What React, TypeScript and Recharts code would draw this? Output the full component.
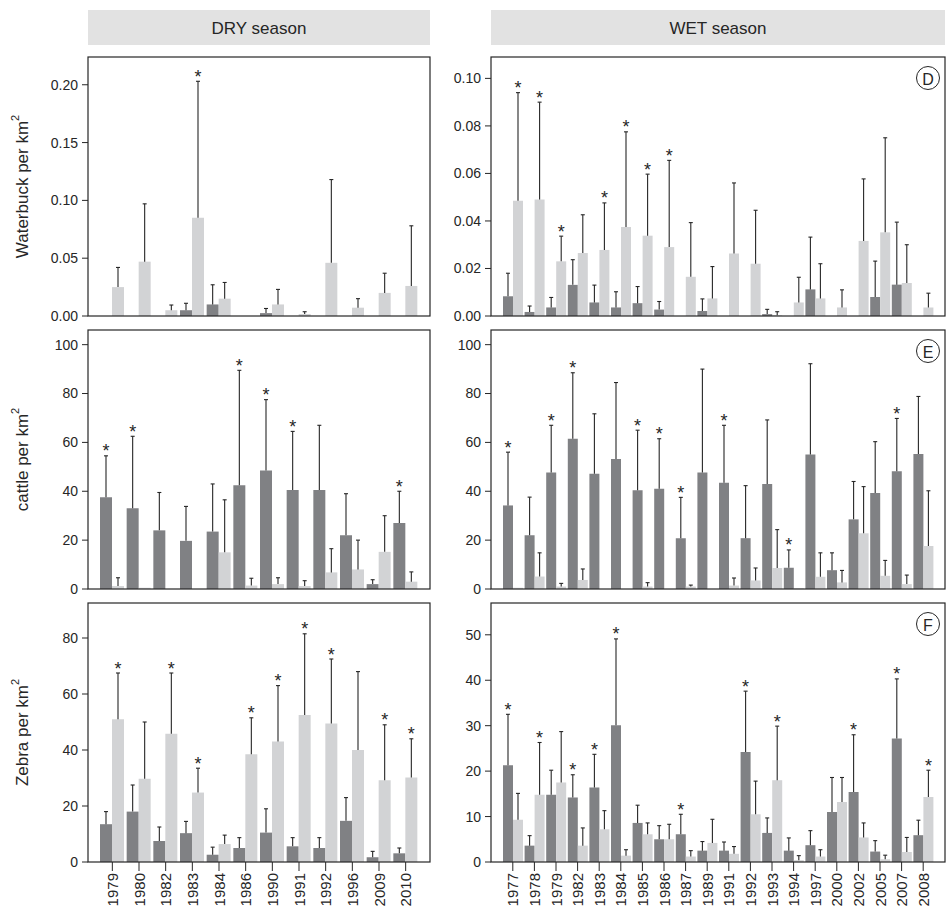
import React from 'react';
import { ComposedChart, Bar, XAxis, YAxis } from 'recharts';

// ---- categories ----
const dryYears = ['1979', '1980', '1982', '1983', '1984', '1986', '1990', '1991', '1992', '1996', '2009', '2010'];
const wetYears = ['1977', '1978', '1979', '1982', '1983', '1984', '1985', '1986', '1987', '1989', '1991', '1992', '1993', '1994', '1997', '2000', '2002', '2005', '2007', '2008'];

// ---- Waterbuck, dry season (mean and mean + SE) ----
const wbDryDark = [0, 0, 0, 0.005, 0.010, 0, 0.0025, 0, 0, 0, 0, 0];
const wbDryDarkHi = [null, null, null, 0.011, 0.027, null, 0.0065, null, null, null, null, null];
const wbDryLight = [0.025, 0.047, 0.005, 0.085, 0.015, 0, 0.010, 0.0017, 0.046, 0.0072, 0.020, 0.026];
const wbDryLightHi = [0.042, 0.097, 0.0095, 0.203, 0.029, null, 0.023, 0.0037, 0.118, 0.015, 0.037, 0.078];
const wbDryDarkStars: string[] = [];
const wbDryLightStars = ['1983'];

// ---- Cattle, dry season ----
const caDryDark = [37.5, 33, 24, 19.7, 23.5, 42.5, 48.5, 40.5, 40.5, 22, 2, 27];
const caDryDarkHi = [54.5, 62.5, 39.5, 33.8, 43, 89.5, 77.5, 64.5, 67, 39, 3.8, 40];
const caDryLight = [1.2, 0.5, 0, 0, 15, 1.4, 2, 1.2, 6.8, 8, 15.2, 3];
const caDryLightHi = [4.6, null, null, null, 36.5, 4.4, 4.6, 3.4, 16.5, 20, 30, 7];
const caDryDarkStars = ['1979', '1980', '1986', '1990', '1991', '2010'];
const caDryLightStars: string[] = [];

// ---- Zebra, dry season ----
const zeDryDark = [13.5, 18, 7.5, 10.3, 2.6, 5, 10.5, 5.6, 5, 14.7, 1.7, 3.1];
const zeDryDarkHi = [18, 27.5, 12.5, 14.5, 5.3, 8.7, 19, 8.7, 8.7, 23, 3.8, 5];
const zeDryLight = [51, 29.7, 45.8, 24.8, 6.4, 38.5, 43, 52.5, 49.5, 40, 29.2, 30.2];
const zeDryLightHi = [67.5, 50, 67.5, 33.5, 9.6, 51.5, 63, 81.5, 72.5, 68, 49, 44];
const zeDryDarkStars: string[] = [];
const zeDryLightStars = ['1979', '1982', '1983', '1986', '1990', '1991', '1992', '2009', '2010'];

// ---- Waterbuck, wet season ----
const wbWetDark = [0.0083, 0.0017, 0.0036, 0.0131, 0.0057, 0.0036, 0.0054, 0.0027, 0, 0.0021, 0, 0, 0.0008, 0, 0.0112, 0, 0, 0.008, 0.0132, 0];
const wbWetDarkHi = [0.018, 0.0042, 0.0078, 0.0237, 0.013, 0.0102, 0.0124, 0.0061, null, 0.0072, null, null, 0.0028, null, 0.0332, null, null, 0.0231, 0.0395, null];
const wbWetLight = [0.0485, 0.049, 0.023, 0.0265, 0.0278, 0.0375, 0.0338, 0.029, 0.0165, 0.0074, 0.0263, 0.022, 0.0003, 0.0057, 0.0074, 0.0036, 0.0316, 0.0352, 0.0139, 0.0036];
const wbWetLightHi = [0.094, 0.090, 0.0336, 0.0426, 0.0476, 0.0775, 0.0597, 0.0655, 0.0393, 0.0208, 0.056, 0.0445, 0.0018, 0.0163, 0.022, 0.011, 0.0577, 0.075, 0.030, 0.0096];
const wbWetDarkStars: string[] = [];
const wbWetLightStars = ['1977', '1978', '1979', '1983', '1984', '1985', '1986'];

// ---- Cattle, wet season ----
const caWetDark = [34.2, 22, 47.7, 61.5, 47.2, 53.2, 40.4, 41, 20.8, 47.7, 43.5, 20.8, 43, 8.7, 55, 7.7, 28.5, 39.3, 48.2, 55.2];
const caWetDarkHi = [56, 37.6, 67, 88.5, 71.7, 84.5, 65, 61.5, 37.5, 90, 67, 42.3, 69.2, 16, 92.2, 14.8, 44, 60.3, 69.8, 78.8];
const caWetLight = [0.5, 5.1, 1, 3.7, 0, 0, 1, 0, 1, 0, 1.4, 3.5, 8.6, 0.3, 5, 2.7, 22.8, 5.4, 2, 17.6];
const caWetLightHi = [null, 14.8, 2.3, 8.2, null, null, 2.6, null, 1.6, null, 4.5, 8.6, 24.3, null, 14.8, 7.6, 41.9, 11.7, 5.7, 40.2];
const caWetDarkStars = ['1977', '1979', '1982', '1985', '1986', '1987', '1991', '1994', '2007'];
const caWetLightStars: string[] = [];

// ---- Zebra, wet season ----
const zeWetDark = [21.3, 3.6, 14.8, 14.2, 16.4, 30.1, 8.6, 5, 6.1, 2.5, 2.5, 24.2, 6.4, 2.5, 3.7, 11, 15.4, 2.3, 27.2, 5.9];
const zeWetDarkHi = [32.5, 5.8, 20.2, 19.2, 23.7, 49.1, 12.5, 8, 10.5, 4.5, 4.4, 37.6, 9.7, 5.3, 6.9, 18.6, 28, 4.7, 40.3, 9.2];
const zeWetLight = [9.3, 14.8, 17.5, 3.6, 7.2, 1.4, 6.1, 5, 1.2, 4.2, 1.8, 10.5, 18, 0.4, 1.2, 13.2, 5.4, 0.6, 2.2, 14.3];
const zeWetLightHi = [15.1, 26.3, 28.7, 7.5, 11.3, 2.7, 8.6, 8.3, 2.5, 9.4, 3.4, 17.8, 29.9, 1.4, 2.7, 18.6, 8.6, 1.5, 5.4, 20.2];
const zeWetDarkStars = ['1977', '1982', '1983', '1984', '1987', '1992', '2002', '2007'];
const zeWetLightStars = ['1978', '1993', '2008'];

// ---- axis ticks ----
const wbDryTicks = [0, 0.05, 0.1, 0.15, 0.2];
const wbWetTicks = [0, 0.02, 0.04, 0.06, 0.08, 0.1];
const cattleTicks = [0, 20, 40, 60, 80, 100];
const zeDryTicks = [0, 20, 40, 60, 80];
const zeWetTicks = [0, 10, 20, 30, 40, 50];

// ---- styling ----
const FONT = '"Liberation Sans", Arial, Helvetica, sans-serif';
const INK = '#262626';
const DARK_FILL = '#808184';
const LIGHT_FILL = '#d2d3d5';
const HEADER_FILL = '#e2e2e2';

type Num = number | null;

// Each row holds the two means plus the SE span stacked above each mean.
function buildRows(cats: string[], dark: Num[], darkHi: Num[], light: Num[], lightHi: Num[], darkStars: string[], lightStars: string[]) {
  return cats.map((cat, i) => {
    const d = dark[i] as number;
    const l = light[i] as number;
    const dh = darkHi[i];
    const lh = lightHi[i];
    return {
      cat,
      dark: d,
      light: l,
      darkSe: dh == null ? 0 : dh - d,
      lightSe: lh == null ? 0 : lh - l,
      darkStar: darkStars.includes(cat) && dh != null,
      lightStar: lightStars.includes(cat) && lh != null,
    };
  });
}

// Whisker drawn inside the rectangle of the stacked SE segment: stem plus top cap.
const Whisker = (props: any) => {
  const { x, y, width, height } = props;
  if (![x, y, width, height].every((v) => Number.isFinite(v)) || height <= 0.2) return <g />;
  const cx = x + width / 2;
  return (
    <g stroke={INK} strokeWidth={1.1} fill="none">
      <line x1={cx} y1={y + height} x2={cx} y2={y} />
      <line x1={cx - 2} y1={y} x2={cx + 2} y2={y} />
    </g>
  );
};

// Significance asterisk placed just above the whisker cap.
const starLabel = (rows: any[], key: 'darkStar' | 'lightStar') => (props: any) => {
  const { index } = props;
  const vb = props.viewBox || props;
  const x = vb.x;
  const y = vb.y;
  const width = vb.width;
  if (index == null || !rows[index] || !rows[index][key]) return null;
  if (![x, y, width].every((v) => Number.isFinite(v))) return null;
  return (
    <text x={x + width / 2} y={y + 1.5} textAnchor="middle" fontSize={18} fill={INK} fontFamily={FONT}>
      *
    </text>
  );
};

const YearTick = (props: any) => {
  const { x, y, payload } = props;
  return (
    <text
      x={x}
      y={y}
      transform={`rotate(-90 ${x} ${y})`}
      textAnchor="end"
      dominantBaseline="central"
      fontSize={15}
      fill={INK}
      fontFamily={FONT}
    >
      {payload.value}
    </text>
  );
};

type Frame = { x: number; y: number; w: number; h: number };

function Panel(props: {
  rows: any[];
  frame: Frame;
  yMax: number;
  yTicks: number[];
  fmt: (v: number) => string;
  bottom: boolean;
  barSize: number;
  pad: number;
}) {
  const { rows, frame, yMax, yTicks, fmt, bottom, barSize, pad } = props;
  const YW = 70;
  const MT = 4;
  const MR = 4;
  const XH = bottom ? 57 : 14;
  const width = YW + frame.w + MR;
  const height = MT + frame.h + XH;
  return (
    <div style={{ position: 'absolute', left: frame.x - YW, top: frame.y - MT }}>
      <ComposedChart
        width={width}
        height={height}
        data={rows}
        margin={{ top: MT, right: MR, left: 0, bottom: 0 }}
        barGap={0}
        barCategoryGap={0}
      >
        <XAxis
          dataKey="cat"
          interval={0}
          axisLine={false}
          tickLine={{ stroke: INK, strokeWidth: 1 }}
          tickSize={9}
          padding={{ left: pad, right: pad }}
          height={XH}
          tick={bottom ? <YearTick /> : false}
        />
        <YAxis
          domain={[0, yMax]}
          ticks={yTicks}
          tickFormatter={fmt}
          allowDataOverflow
          axisLine={false}
          tickLine={{ stroke: INK, strokeWidth: 1 }}
          tickSize={6}
          tickMargin={4}
          width={YW}
          tick={{ fontSize: 14, fill: INK, fontFamily: FONT }}
        />
        <Bar dataKey="dark" stackId="dark" fill={DARK_FILL} barSize={barSize} isAnimationActive={false} />
        <Bar dataKey="darkSe" stackId="dark" fill="none" barSize={barSize} shape={Whisker}
          label={starLabel(rows, 'darkStar')} isAnimationActive={false} />
        <Bar dataKey="light" stackId="light" fill={LIGHT_FILL} barSize={barSize} isAnimationActive={false} />
        <Bar dataKey="lightSe" stackId="light" fill="none" barSize={barSize} shape={Whisker}
          label={starLabel(rows, 'lightStar')} isAnimationActive={false} />
      </ComposedChart>
    </div>
  );
}

const fmt2 = (v: number) => v.toFixed(2);
const fmt0 = (v: number) => String(v);

const LEFT_X = 88;
const LEFT_W = 342;
const RIGHT_X = 491;
const RIGHT_W = 454;
const ROW_Y = [57, 330, 603];
const ROW_H = 259;

export default function App() {
  const frames = {
    a: { x: LEFT_X, y: ROW_Y[0], w: LEFT_W, h: ROW_H },
    b: { x: LEFT_X, y: ROW_Y[1], w: LEFT_W, h: ROW_H },
    c: { x: LEFT_X, y: ROW_Y[2], w: LEFT_W, h: ROW_H },
    d: { x: RIGHT_X, y: ROW_Y[0], w: RIGHT_W, h: ROW_H },
    e: { x: RIGHT_X, y: ROW_Y[1], w: RIGHT_W, h: ROW_H },
    f: { x: RIGHT_X, y: ROW_Y[2], w: RIGHT_W, h: ROW_H },
  };

  const titles = [
    { label: 'Waterbuck per km', y: ROW_Y[0] + ROW_H / 2 },
    { label: 'cattle per km', y: ROW_Y[1] + ROW_H / 2 },
    { label: 'Zebra per km', y: ROW_Y[2] + ROW_H / 2 },
  ];
  const letters = [
    { t: 'D', f: frames.d },
    { t: 'E', f: frames.e },
    { t: 'F', f: frames.f },
  ];

  return (
    <div style={{ position: 'absolute', left: 0, top: 0, width: 951, height: 919, background: '#fff', fontFamily: FONT }}>
      <Panel rows={buildRows(dryYears, wbDryDark, wbDryDarkHi, wbDryLight, wbDryLightHi, wbDryDarkStars, wbDryLightStars)}
        frame={frames.a} yMax={0.224} yTicks={wbDryTicks} fmt={fmt2} bottom={false} barSize={12} pad={11} />
      <Panel rows={buildRows(dryYears, caDryDark, caDryDarkHi, caDryLight, caDryLightHi, caDryDarkStars, caDryLightStars)}
        frame={frames.b} yMax={106} yTicks={cattleTicks} fmt={fmt0} bottom={false} barSize={12} pad={11} />
      <Panel rows={buildRows(dryYears, zeDryDark, zeDryDarkHi, zeDryLight, zeDryLightHi, zeDryDarkStars, zeDryLightStars)}
        frame={frames.c} yMax={92.5} yTicks={zeDryTicks} fmt={fmt0} bottom={true} barSize={12} pad={11} />
      <Panel rows={buildRows(wetYears, wbWetDark, wbWetDarkHi, wbWetLight, wbWetLightHi, wbWetDarkStars, wbWetLightStars)}
        frame={frames.d} yMax={0.109} yTicks={wbWetTicks} fmt={fmt2} bottom={false} barSize={10} pad={11} />
      <Panel rows={buildRows(wetYears, caWetDark, caWetDarkHi, caWetLight, caWetLightHi, caWetDarkStars, caWetLightStars)}
        frame={frames.e} yMax={106} yTicks={cattleTicks} fmt={fmt0} bottom={false} barSize={10} pad={11} />
      <Panel rows={buildRows(wetYears, zeWetDark, zeWetDarkHi, zeWetLight, zeWetLightHi, zeWetDarkStars, zeWetLightStars)}
        frame={frames.f} yMax={57} yTicks={zeWetTicks} fmt={fmt0} bottom={true} barSize={10} pad={11} />

      <svg width={951} height={919} style={{ position: 'absolute', left: 0, top: 0, pointerEvents: 'none' }}>
        {/* season headers */}
        <rect x={LEFT_X} y={10} width={LEFT_W} height={35} fill={HEADER_FILL} />
        <text x={LEFT_X + LEFT_W / 2} y={28} textAnchor="middle" dominantBaseline="central" fontSize={17} fill={INK} fontFamily={FONT}>DRY season</text>
        <rect x={RIGHT_X} y={10} width={RIGHT_W} height={35} fill={HEADER_FILL} />
        <text x={RIGHT_X + RIGHT_W / 2} y={28} textAnchor="middle" dominantBaseline="central" fontSize={17} fill={INK} fontFamily={FONT}>WET season</text>

        {/* panel frames */}
        {Object.values(frames).map((f, i) => (
          <rect key={i} x={f.x} y={f.y} width={f.w} height={f.h} fill="none" stroke={INK} strokeWidth={1.2} />
        ))}

        {/* y-axis titles */}
        {titles.map((t, i) => (
          <text key={i} x={22} y={t.y} transform={`rotate(-90 22 ${t.y})`} textAnchor="middle" dominantBaseline="central" fontSize={17} fill={INK} fontFamily={FONT}>
            {t.label}
            <tspan fontSize={11} dy={-7}>2</tspan>
          </text>
        ))}

        {/* panel letters */}
        {letters.map((l, i) => (
          <g key={i}>
            <circle cx={l.f.x + l.f.w - 17} cy={l.f.y + 21} r={11.5} fill="#fff" stroke={INK} strokeWidth={1} />
            <text x={l.f.x + l.f.w - 17} y={l.f.y + 22} textAnchor="middle" dominantBaseline="central" fontSize={16} fill={INK} fontFamily={FONT}>{l.t}</text>
          </g>
        ))}
      </svg>
    </div>
  );
}
